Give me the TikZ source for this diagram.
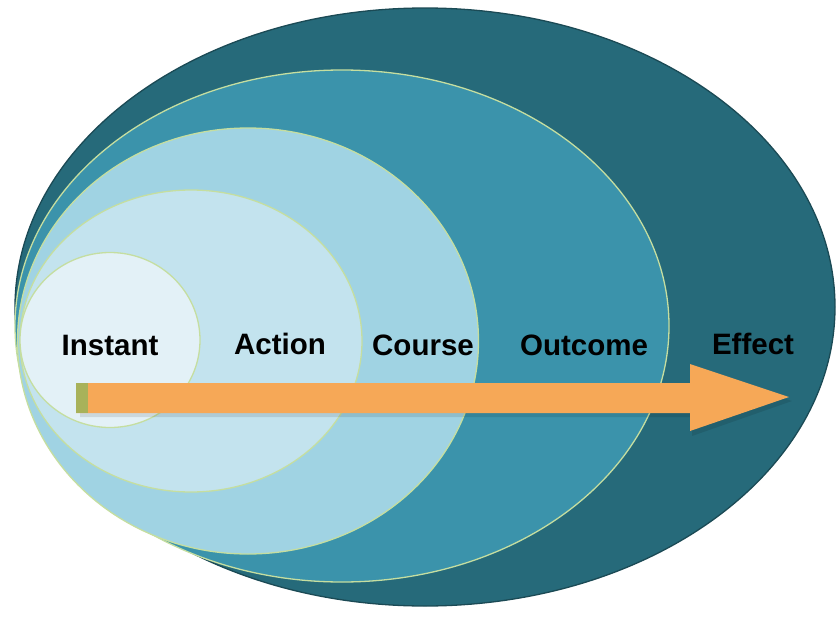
\documentclass[tikz,border=0pt]{standalone}
\usepackage{fontspec}
\setmainfont{Liberation Sans}
\usetikzlibrary{shapes.geometric}
\definecolor{effectc}{HTML}{266A7A}
\definecolor{outcomec}{HTML}{3B93AB}
\definecolor{coursec}{HTML}{A0D3E3}
\definecolor{actionc}{HTML}{C3E3EE}
\definecolor{instantc}{HTML}{E3F1F7}
\definecolor{rimc}{HTML}{C5DEA0}
\definecolor{arrowc}{HTML}{F6A857}
\definecolor{bandc}{HTML}{A8B25A}
\tikzset{
  ring/.style={ellipse, inner sep=0pt, outer sep=0pt, draw=rimc, line width=1.3pt},
  lbl/.style={font=\fontsize{29.5}{32}\selectfont\bfseries, text=black, inner sep=0pt},
}
\begin{document}
\begin{tikzpicture}[x=1pt,y=-1pt]
\useasboundingbox (0,0) rectangle (838,616);
\node[ring, draw=effectc!70!black, fill=effectc, minimum width=820pt, minimum height=598pt] (effect) at (425,307) {};
\node[ring, fill=outcomec, minimum width=654pt, minimum height=512pt] (outcome) at (342,326) {};
\node[ring, fill=coursec, minimum width=461pt, minimum height=426pt] (course) at (248,341) {};
\node[ring, fill=actionc, minimum width=342pt, minimum height=302pt] (action) at (191,341) {};
\node[ring, fill=instantc, minimum width=180pt, minimum height=175pt] (instant) at (110,340) {};
% arrow
\fill[black, opacity=0.10] (80,387) -- (692,387) -- (692,369) -- (792,401) -- (692,436) -- (692,417) -- (80,417) -- cycle;
\fill[arrowc] (76,383) -- (690,383) -- (690,364) -- (789,397) -- (690,431) -- (690,413) -- (76,413) -- cycle;
\fill[bandc] (76,383) rectangle (88,413);
\node[lbl] (tinstant) at (110,345) {Instant};
\node[lbl] (taction) at (280,344) {Action};
\node[lbl] (tcourse) at (423,345) {Course};
\node[lbl] (toutcome) at (584,345) {Outcome};
\node[lbl] (teffect) at (753,344) {Effect};
\end{tikzpicture}
\end{document}
